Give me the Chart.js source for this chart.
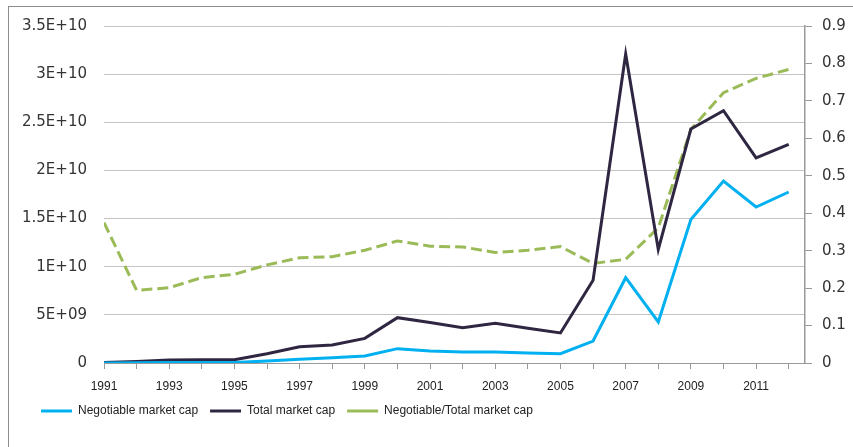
<!DOCTYPE html>
<html>
<head>
<meta charset="utf-8">
<script src="https://cdn.jsdelivr.net/npm/chart.js@4.4.1/dist/chart.umd.min.js"></script>
<style>
  html, body { margin: 0; padding: 0; background: #fff; overflow: hidden; }
  #wrap { position: relative; width: 853px; height: 447px; }
  #frame { position: absolute; left: 8px; top: 6px; width: 900px; height: 500px; border: 1px solid #8c8c8c; }
  canvas { position: absolute; left: 0; top: 0; }
</style>
</head>
<body>
<div id="wrap">
  <div id="frame"></div>
  <canvas id="lineChart" width="853" height="447"></canvas>
</div>
<script>
const years = [1991, 1992, 1993, 1994, 1995, 1996, 1997, 1998, 1999, 2000, 2001,
               2002, 2003, 2004, 2005, 2006, 2007, 2008, 2009, 2010, 2011, 2012];
const negotiableCap = [0.0, 0.02e9, 0.05e9, 0.05e9, 0.05e9, 0.2e9, 0.4e9, 0.55e9, 0.73e9, 1.49e9, 1.25e9,
                       1.14e9, 1.14e9, 1.04e9, 0.97e9, 2.28e9, 8.86e9, 4.26e9, 14.9e9, 18.9e9, 16.2e9, 17.76e9];
const totalCap = [0.05e9, 0.15e9, 0.3e9, 0.35e9, 0.35e9, 0.97e9, 1.69e9, 1.87e9, 2.56e9, 4.71e9, 4.2e9,
                  3.67e9, 4.12e9, 3.6e9, 3.12e9, 8.59e9, 32.1e9, 11.8e9, 24.3e9, 26.2e9, 21.3e9, 22.7e9];
const capRatio = [0.375, 0.194, 0.201, 0.228, 0.237, 0.262, 0.281, 0.284, 0.301, 0.326, 0.312,
                  0.310, 0.295, 0.301, 0.311, 0.266, 0.277, 0.361, 0.624, 0.722, 0.760, 0.784];
const seriesNames = ['Negotiable market cap', 'Total market cap', 'Negotiable/Total market cap'];

const toPoints = arr => years.map((yr, i) => ({ x: yr, y: arr[i] }));

// 5E+09 / 1.5E+10 style labels
const sciLabel = v => {
    if (v === 0) return '0';
    const e = Math.floor(Math.log10(v) + 1e-9);
    const m = Math.round(v / Math.pow(10, e) * 10) / 10;
    return m + 'E+' + String(e).padStart(2, '0');
};

const legendShift = {
    id: 'legendShift',
    afterLayout(chart) {
        chart.legend.left = 29;
    }
};

const narrowFont = { family: '"Liberation Sans", sans-serif', size: 12 };
const tickFont = { family: '"DejaVu Sans", sans-serif', size: 15 };

new Chart(document.getElementById('lineChart'), {
    type: 'line',
    data: {
        datasets: [{
            label: seriesNames[0],
            data: toPoints(negotiableCap),
            borderColor: '#00b0f0',
            backgroundColor: '#00b0f0',
            borderWidth: 3,
            pointRadius: 0,
            tension: 0,
            yAxisID: 'y'
        }, {
            label: seriesNames[1],
            data: toPoints(totalCap),
            borderColor: '#2f2641',
            backgroundColor: '#2f2641',
            borderWidth: 3,
            pointRadius: 0,
            tension: 0,
            yAxisID: 'y'
        }, {
            label: seriesNames[2],
            data: toPoints(capRatio),
            borderColor: '#9bbb59',
            backgroundColor: '#9bbb59',
            borderWidth: 3,
            borderDash: [11, 5],
            pointRadius: 0,
            tension: 0,
            yAxisID: 'y1'
        }]
    },
    options: {
        responsive: false,
        animation: false,
        layout: { padding: { top: 17, right: 0, bottom: 20, left: 0 } },
        plugins: {
            legend: {
                position: 'bottom',
                align: 'start',
                labels: {
                    usePointStyle: true,
                    pointStyle: 'line',
                    pointStyleWidth: 31,
                    boxHeight: 3,
                    padding: 12,
                    color: '#222',
                    font: narrowFont
                }
            },
            tooltip: { enabled: false }
        },
        scales: {
            x: {
                type: 'linear',
                min: 1991,
                max: 2012.5,
                afterBuildTicks: scale => {
                    scale.ticks = years.map(v => ({ value: v }));
                },
                afterFit: scale => { scale.height = 30; },
                ticks: {
                    autoSkip: false,
                    maxRotation: 0,
                    padding: 10,
                    color: '#222',
                    font: narrowFont,
                    callback: v => (v % 2 === 1 ? String(v) : '')
                },
                grid: { drawOnChartArea: false, tickLength: 6, color: '#999' },
                border: { display: true, color: '#999', width: 1 }
            },
            y: {
                position: 'left',
                min: 0,
                max: 3.5e10,
                afterFit: scale => { scale.width = 104; },
                ticks: {
                    stepSize: 5e9,
                    padding: 17,
                    color: '#333',
                    font: tickFont,
                    callback: v => sciLabel(v)
                },
                grid: { color: '#c4c4c4', lineWidth: 1, drawTicks: false },
                border: { display: false }
            },
            y1: {
                position: 'right',
                min: 0,
                max: 0.9,
                afterFit: scale => { scale.width = 48; },
                ticks: {
                    stepSize: 0.1,
                    padding: 10,
                    color: '#333',
                    font: tickFont,
                    callback: v => (v === 0 ? '0' : v.toFixed(1))
                },
                grid: { drawOnChartArea: false, tickLength: 7, color: '#999' },
                border: { display: true, color: '#999', width: 1.5 }
            }
        }
    },
    plugins: [legendShift]
});
</script>
</body>
</html>
